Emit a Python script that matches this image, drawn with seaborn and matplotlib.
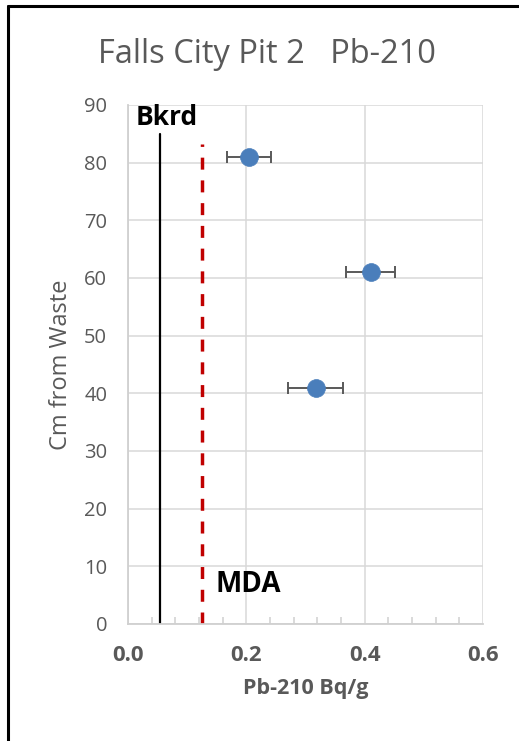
import matplotlib
matplotlib.use("Agg")
import matplotlib.pyplot as plt
from matplotlib.lines import Line2D
from matplotlib.ticker import MultipleLocator
import seaborn as sns
import pandas as pd

# Pb-210 activity by depth, with measurement uncertainty
depth_cm = [81, 61, 41]
pb210_bq_g = [0.205, 0.410, 0.317]
pb210_err = [0.037, 0.042, 0.046]

background = 0.054
mda = 0.125
bkrd_top = 85.0
mda_top = 83.3

df = pd.DataFrame({"depth": depth_cm, "activity": pb210_bq_g, "err": pb210_err})

sns.set_theme(style="white")
plt.rcParams["font.family"] = ["Open Sans", "DejaVu Sans"]

grey = "#595959"
fig = plt.figure(figsize=(5.19, 7.41), dpi=100)
ax = fig.add_axes([0.2466, 0.1579, 0.9306 - 0.2466, 0.8583 - 0.1579])

# outer frame of the chart area (top and left edges)
fig.add_artist(Line2D([0.0145, 0.0145], [0, 0.9919], transform=fig.transFigure, color="black", lw=2.2))
fig.add_artist(Line2D([0.0145, 1.0], [0.9919, 0.9919], transform=fig.transFigure, color="black", lw=2.2))

ax.set_xlim(0, 0.6)
ax.set_ylim(0, 90)
ax.xaxis.set_major_locator(MultipleLocator(0.2))
ax.xaxis.set_minor_locator(MultipleLocator(0.04))
ax.yaxis.set_major_locator(MultipleLocator(10))
ax.grid(True, which="major", color="#d9d9d9", lw=1.1)
ax.set_axisbelow(True)

for side in ["top", "right"]:
    ax.spines[side].set_visible(False)
for side in ["left", "bottom"]:
    ax.spines[side].set_color("#d0d0d0")
    ax.spines[side].set_linewidth(1.3)

ax.tick_params(axis="x", which="both", direction="in", color="#d0d0d0", bottom=True)
ax.tick_params(axis="x", which="major", length=0, pad=15)
ax.tick_params(axis="x", which="minor", length=5, width=1.1)
ax.tick_params(axis="y", length=0, pad=15)

# reference lines
ax.plot([background, background], [0, bkrd_top], color="black", lw=1.6)
ax.plot([mda, mda], [0, mda_top], color="#c00000", lw=2.5, dashes=(3.45, 3.1))

ax.errorbar(df["activity"], df["depth"], xerr=df["err"], fmt="none",
            ecolor=grey, elinewidth=1.4, capsize=4.5, capthick=1.4, zorder=3)
sns.scatterplot(data=df, x="activity", y="depth", ax=ax, s=165, color="#4a7ebb",
                edgecolor="#4a7ebb", linewidth=0.5, zorder=4, legend=False)

ax.text(0.0135, 86.5, "Bkrd", fontsize=19, fontweight="bold", color="black", va="baseline", ha="left")
ax.text(0.1485, 5.55, "MDA", fontsize=20, fontweight="bold", color="black", va="baseline", ha="left")

ax.set_xticks([0.0, 0.2, 0.4, 0.6])
ax.set_xticklabels(["0.0", "0.2", "0.4", "0.6"], fontsize=16, fontweight="bold", color=grey)
ax.set_yticks(range(0, 91, 10))
ax.set_yticklabels([str(v) for v in range(0, 91, 10)], fontsize=14.5, color=grey)

ax.set_xlabel("Pb-210 Bq/g", fontsize=15.5, fontweight="bold", color=grey, labelpad=9)
ax.set_ylabel("Cm from Waste", fontsize=17, color=grey, labelpad=8)
fig.text(0.514, 1 - 63 / 741, "Falls City Pit 2   Pb-210", ha="center", va="baseline",
         fontsize=23.5, color=grey)

fig.savefig("out.png", dpi=100)
